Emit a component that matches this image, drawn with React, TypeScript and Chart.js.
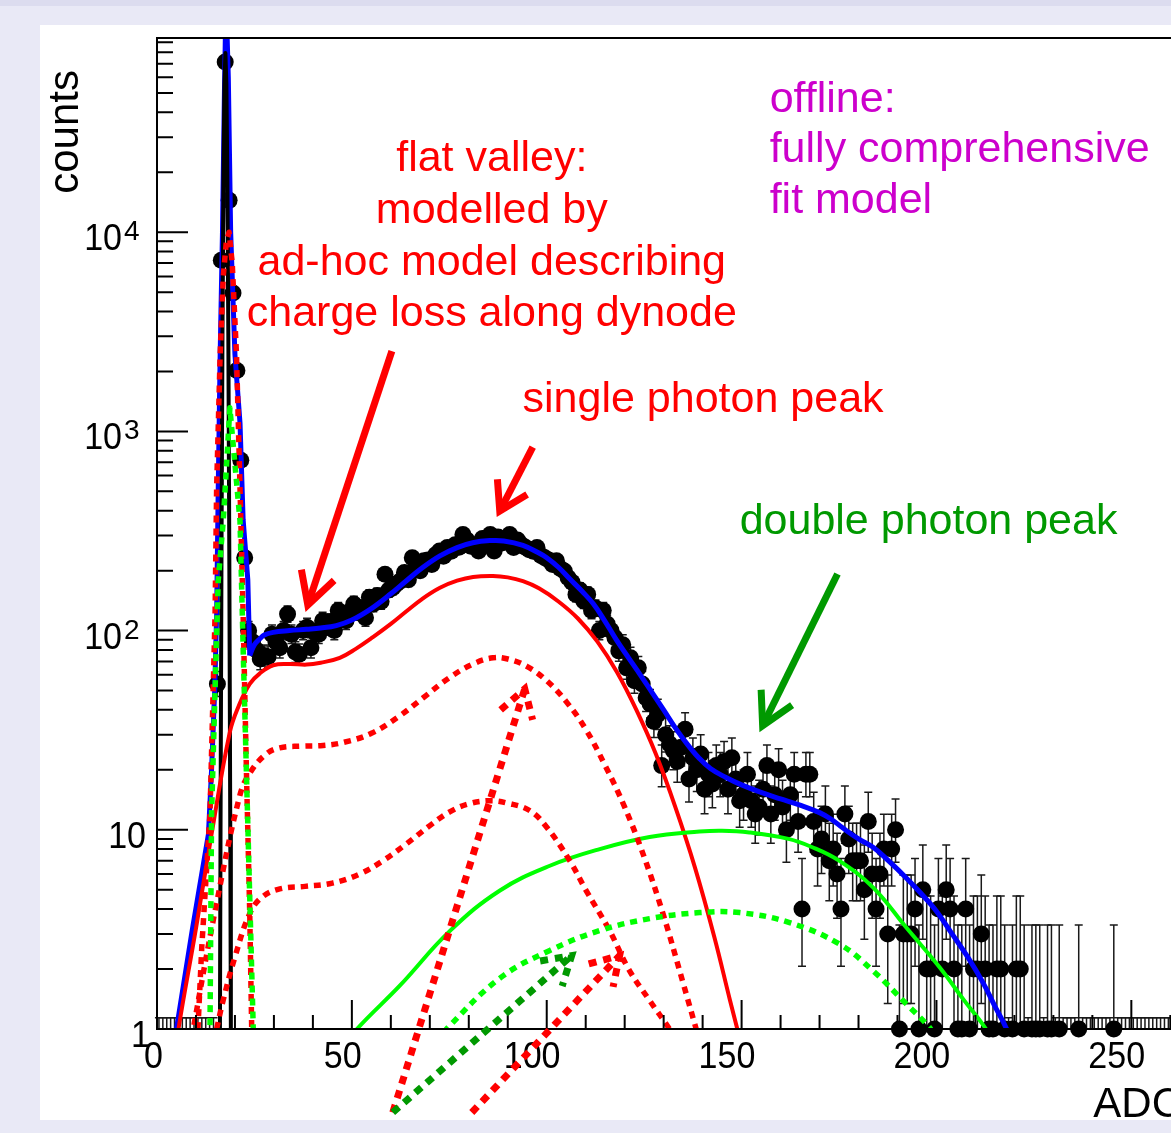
import React, { useEffect, useRef } from "react";
import { Chart, registerables } from "chart.js";

Chart.register(...registerables);

const CANVAS_W = 1230;
const CANVAS_H = 1133;

// ---------------- data ----------------
// histogram counts, one bin per ADC unit, bins 0..262 (bin centre = i + 0.5)
const binCounts: number[] = [
  0, 0, 0, 0, 0, 0, 0, 0, 0, 0,
  0, 0, 0, 0, 0, 54, 7240, 71600, 14450, 4950,
  2020, 716, 232, 100, 88, 80, 72, 75, 74, 96,
  88, 82, 100, 121, 96, 78, 76, 100, 104, 82,
  98, 96, 112, 105, 110, 100, 126, 118, 112, 125,
  136, 124, 130, 116, 147, 136, 150, 140, 192, 160,
  164, 172, 178, 196, 180, 232, 210, 200, 224, 226,
  215, 240, 251, 236, 261, 250, 270, 262, 304, 285,
  265, 270, 251, 290, 280, 304, 251, 295, 275, 290,
  304, 261, 285, 270, 262, 255, 250, 261, 238, 232,
  226, 215, 224, 205, 199, 184, 175, 152, 160, 141,
  152, 126, 130, 100, 126, 108, 100, 92, 79, 85,
  65, 73, 56, 65, 54, 46, 43, 35, 38, 21,
  30, 27, 25, 22, 26, 32, 18, 23, 20, 24,
  16, 19, 17, 21, 19, 22, 16, 23, 18, 14,
  15, 19, 14, 12, 13, 16, 21, 12, 15, 20,
  13, 10, 15, 19, 11, 4, 19, 19, 11, 8,
  9, 12, 7, 8, 6, 4, 12, 9, 7, 7,
  7, 5, 11, 6, 4, 6, 8, 3, 8, 10,
  1, 3, 3, 3, 4, 1, 5, 2, 2, 1,
  4, 2, 5, 4, 2, 1, 1, 4, 1, 2,
  2, 3, 2, 1, 1, 2, 2, 1, 0, 1,
  2, 2, 1, 0, 1, 1, 1, 0, 1, 1,
  0, 1, 0, 0, 0, 0, 1, 0, 0, 0,
  0, 0, 0, 0, 0, 1, 0, 0, 0, 0,
  0, 0, 0, 0, 0, 0, 0, 0, 0, 0,
  0, 0, 0,
];

// total fit (blue): pedestal part + main part
const totalPedX = [4.5, 5, 9, 13.2, 14, 14.8, 15.3, 15.7, 16.2, 16.8, 17.3, 17.7, 18.3, 18.9, 20, 21.3, 22.1, 23.3, 23.8];
const totalPedY = [0.75, 1, 3.1, 9.5, 20, 50, 120, 500, 2400, 10000, 50000, 150000, 60000, 10000, 2430, 1100, 360, 180, 75];
const totalFitX = [23.8, 25, 26.4, 27.5, 29.8, 34, 38.4, 42, 46, 50, 55, 60, 64, 68, 72.6, 77, 81, 85.4, 89, 93.9, 98, 100, 103, 106, 109, 112, 115, 118, 121, 124, 127, 130, 133, 136, 139, 142, 146, 150, 155, 160, 165, 170, 173, 176, 180, 184, 188, 192, 196, 200, 204, 208, 212, 215, 218, 219];
const totalFitY = [75, 85, 91, 95, 98, 100, 101.5, 103, 106, 113, 129, 153, 178, 206, 237, 261, 276, 283, 282, 268, 245, 232, 208, 181, 158, 136, 111, 89, 73, 60, 49, 40, 32.5, 27, 23, 20.3, 18.3, 16.8, 15.4, 14.3, 13.3, 12.2, 11.3, 10.2, 9, 8.1, 6.9, 5.8, 4.8, 3.9, 3.0, 2.3, 1.7, 1.3, 1, 0.85];

// pedestal (black)
const pedestalX = [15.9, 16.15, 16.3, 16.55, 16.8, 17.05, 17.3, 17.55, 17.8, 18.05, 18.3, 18.55, 18.8, 18.95, 19.1];
const pedestalY = [0.5, 1, 10, 254, 3130, 18900, 55500, 79400, 55500, 18900, 3130, 254, 10, 1, 0.3];

// single photon + valley sum (red solid)
const singleSumX = [5, 5.5, 10, 14, 18.7, 21, 23.8, 26.4, 29.8, 34, 38.4, 42, 46.9, 51, 55.5, 60, 64, 68, 72.6, 77, 81.1, 86.2, 90, 93.9, 98, 103, 108, 113, 118, 123, 128, 133, 138, 143, 147, 149.5];
const singleSumY = [0.8, 1, 3.2, 9.5, 31, 42, 54, 61, 67, 68, 67.5, 69, 73, 81, 93, 108, 125, 144, 164, 178, 186, 188, 185, 177, 163, 140, 115, 88, 62, 40, 24, 13, 6.5, 2.9, 1.4, 0.9];

// red dotted components
const valleyUpperX = [9, 9.3, 15, 21.3, 24, 28, 31.5, 37, 42.6, 48, 55, 62, 68.3, 75, 81.1, 86.2, 90, 95, 100, 105, 110, 115, 120, 125, 130, 135, 139];
const valleyUpperY = [0.9, 1, 4, 15, 19.5, 24, 25.8, 26.3, 26.5, 27.5, 30.5, 37, 46, 58, 68, 73, 72, 66, 56, 44, 32, 21, 13, 7.3, 3.7, 1.7, 0.9];
const valleyLowerX = [15.3, 17, 20, 23.8, 27, 31.5, 38, 45, 52, 58, 64, 70, 75.1, 80, 85.4, 90, 95.6, 100, 105.9, 110, 116.2, 121, 126.4, 131.5, 132];
const valleyLowerY = [1, 1.4, 2.3, 3.8, 4.6, 5.05, 5.2, 5.4, 6.0, 7.0, 8.5, 10.5, 12.3, 13.5, 14, 13.6, 12.5, 10.3, 7, 5, 3.1, 2, 1.39, 1, 0.95];
const pedRedX = [10.5, 11.5, 13.6, 14.9, 15.3, 16.2, 17, 17.8, 18.5, 19.3, 20.4, 21.3, 22.1, 23, 23.8, 24.3, 24.5];
const pedRedY = [1, 2.6, 12, 120, 520, 2430, 6000, 9000, 10000, 7000, 2430, 520, 120, 17.6, 3.8, 1, 0.8];

// double photon (green)
const doubleX = [50, 51.3, 62.3, 75.1, 88, 100.8, 113.6, 126.4, 139.2, 145, 152, 162, 168, 175, 183.7, 192.2, 200.8, 207, 212.7, 213.5];
const doubleY = [0.9, 1, 1.65, 3.1, 4.96, 6.6, 8.0, 9.2, 9.8, 9.9, 9.7, 9.0, 8.2, 7.0, 5.14, 3.24, 2.04, 1.4, 1, 0.9];
const doubleDotX = [74, 74.3, 88, 100.8, 113.6, 126.4, 139.2, 149.5, 162.3, 175.1, 183.7, 192.2, 198.2, 199];
const doubleDotY = [0.95, 1, 1.8, 2.48, 3.12, 3.58, 3.84, 3.84, 3.42, 2.67, 1.96, 1.34, 1.02, 0.95];
const pedGreenX = [13.5, 13.6, 14, 15.7, 17, 18.7, 21.3, 22.1, 23, 24.7, 24.9];
const pedGreenY = [0.9, 1, 12, 178, 355, 1313, 355, 82, 17.6, 1, 0.9];

// axes
const xMin = 0;
const xMax = 263;
const yMin = 1;
const yMax = 94400;
const xMajorTicks = [0, 50, 100, 150, 200, 250];
const xMinorTicks = [10, 20, 30, 40, 60, 70, 80, 90, 110, 120, 130, 140, 160, 170, 180, 190, 210, 220, 230, 240, 260];
const yDecades = [0, 1, 2, 3, 4];

// annotations (data coordinates)
const valleyText = ["flat valley:", "modelled by", "ad-hoc model describing", "charge loss along dynode"];
const valleyTextX = 85.9;
const valleyTextY = [20190, 11090, 6080, 3373];
const offlineText = ["offline:", "fully comprehensive", "fit model"];
const offlineTextX = 157.2;
const offlineTextY = [40360, 22420, 12440];
const singleText = "single photon peak";
const singleTextPos = [93.8, 1250];
const doubleText = "double photon peak";
const doubleTextPos = [149.5, 305.5];

// arrows: [tailX, tailY, tipX, tipY]
const arrowValley = [60.26, 2529, 38.7, 134.5];
const arrowSingle = [96.4, 834, 87.95, 398];
const arrowDouble = [174.6, 192.5, 155.4, 33.3];
const arrowDotUpper = [60.5, 0.381, 94.36, 51.0];
const arrowDotGreen = [60.5, 0.381, 106.4, 2.337];
const arrowDotLower = [80.77, 0.381, 118.7, 2.337];

// ---------------- drawing helpers ----------------
const FONT = '"Liberation Sans", Arial, sans-serif';

function drawArrow(ctx: CanvasRenderingContext2D, x1: number, y1: number, x2: number, y2: number, color: string, w: number, dash: number[], head: number, ang: number) {
  ctx.save();
  ctx.strokeStyle = color;
  ctx.lineWidth = w;
  ctx.setLineDash(dash);
  ctx.lineCap = "butt";
  ctx.lineJoin = "miter";
  ctx.beginPath();
  ctx.moveTo(x1, y1);
  ctx.lineTo(x2, y2);
  ctx.stroke();
  const a = Math.atan2(y1 - y2, x1 - x2);
  ctx.beginPath();
  ctx.moveTo(x2 + head * Math.cos(a + ang), y2 + head * Math.sin(a + ang));
  ctx.lineTo(x2, y2);
  ctx.lineTo(x2 + head * Math.cos(a - ang), y2 + head * Math.sin(a - ang));
  ctx.stroke();
  ctx.restore();
}

function textScaled(ctx: CanvasRenderingContext2D, s: string, x: number, y: number, align: CanvasTextAlign, sx: number) {
  ctx.save();
  ctx.translate(x, y);
  ctx.scale(sx, 1);
  ctx.textAlign = align;
  ctx.textBaseline = "alphabetic";
  ctx.fillText(s, 0, 0);
  ctx.restore();
}

const rootPlugin = {
  id: "rootStyle",
  beforeDraw(chart: any) {
    const ctx: CanvasRenderingContext2D = chart.ctx;
    ctx.save();
    ctx.fillStyle = "#e9e9f6";
    ctx.fillRect(0, 0, CANVAS_W, CANVAS_H);
    ctx.fillStyle = "#dcdcef";
    ctx.fillRect(0, 0, CANVAS_W, 6);
    ctx.fillStyle = "#ffffff";
    ctx.fillRect(40, 25, CANVAS_W - 40, 1095);
    ctx.restore();
  },
  beforeDatasetsDraw(chart: any) {
    const ctx: CanvasRenderingContext2D = chart.ctx;
    const xs = chart.scales.x;
    const ys = chart.scales.y;
    const area = chart.chartArea;
    const bottom = area.bottom;
    ctx.save();
    ctx.strokeStyle = "#1a1a1a";
    ctx.lineWidth = 1.5;
    const cap = 4;
    binCounts.forEach((n, i) => {
      const x = xs.getPixelForValue(i + 0.5);
      if (x > area.right) return;
      ctx.beginPath();
      if (n <= 0) {
        const t = ys.getPixelForValue(1.14);
        ctx.moveTo(x, bottom);
        ctx.lineTo(x, t);
        ctx.moveTo(x - cap, t);
        ctx.lineTo(x + cap, t);
        ctx.stroke();
        return;
      }
      const up = n + Math.sqrt(n + 0.75) + 1;
      const lo = n - Math.sqrt(n - 0.25);
      const yu = ys.getPixelForValue(up);
      const yl = lo >= yMin ? ys.getPixelForValue(lo) : bottom;
      ctx.moveTo(x, yl);
      ctx.lineTo(x, Math.max(yu, area.top));
      if (yu >= area.top) {
        ctx.moveTo(x - cap, yu);
        ctx.lineTo(x + cap, yu);
      }
      if (lo >= yMin) {
        ctx.moveTo(x - cap, yl);
        ctx.lineTo(x + cap, yl);
      }
      ctx.stroke();
    });
    ctx.restore();
  },
  afterDatasetsDraw(chart: any) {
    const ctx: CanvasRenderingContext2D = chart.ctx;
    const xs = chart.scales.x;
    const ys = chart.scales.y;
    const a = chart.chartArea;
    const px = (v: number) => xs.getPixelForValue(v);
    const py = (v: number) => ys.getPixelForValue(v);

    ctx.save();
    // frame
    ctx.strokeStyle = "#000";
    ctx.lineWidth = 2;
    ctx.strokeRect(a.left, a.top, a.right - a.left, a.bottom - a.top);
    // x ticks
    ctx.beginPath();
    xMajorTicks.forEach((v) => {
      const x = px(v);
      ctx.moveTo(x, a.bottom);
      ctx.lineTo(x, a.bottom - 29);
    });
    xMinorTicks.forEach((v) => {
      const x = px(v);
      ctx.moveTo(x, a.bottom);
      ctx.lineTo(x, a.bottom - 14);
    });
    // y ticks
    yDecades.forEach((d) => {
      for (let m = 1; m <= 9; m++) {
        const v = m * Math.pow(10, d);
        if (v > yMax || v < yMin) continue;
        const y = py(v);
        ctx.moveTo(a.left, y);
        ctx.lineTo(a.left + (m === 1 ? 31 : 16), y);
      }
    });
    ctx.stroke();

    // tick labels
    ctx.fillStyle = "#000";
    ctx.font = `37px ${FONT}`;
    xMajorTicks.forEach((v) => {
      const s = String(v);
      textScaled(ctx, s, px(v) - 15 * s.length + 2, a.bottom + 39, "left", 0.92);
    });
    yDecades.forEach((d) => {
      const y = py(Math.pow(10, d));
      ctx.font = `37px ${FONT}`;
      if (d === 0) {
        textScaled(ctx, "1", 150, y + 18, "right", 0.92);
      } else if (d === 1) {
        textScaled(ctx, "10", 146, y + 18, "right", 0.92);
      } else {
        textScaled(ctx, "10", 122, y + 18, "right", 0.92);
        ctx.font = `28px ${FONT}`;
        textScaled(ctx, String(d), 124, y + 8, "left", 1);
      }
    });

    // axis titles
    ctx.font = `42px ${FONT}`;
    ctx.save();
    ctx.translate(78, 70);
    ctx.rotate(-Math.PI / 2);
    ctx.textAlign = "right";
    ctx.textBaseline = "alphabetic";
    ctx.fillText("counts", 0, 0);
    ctx.restore();
    textScaled(ctx, "ADC", a.right, 1117, "right", 1);

    // annotation texts
    ctx.font = `43px ${FONT}`;
    ctx.fillStyle = "#ff0000";
    valleyText.forEach((t, i) => textScaled(ctx, t, px(valleyTextX), py(valleyTextY[i]), "center", 1));
    textScaled(ctx, singleText, px(singleTextPos[0]), py(singleTextPos[1]), "left", 1);
    ctx.fillStyle = "#cc00cc";
    offlineText.forEach((t, i) => textScaled(ctx, t, px(offlineTextX), py(offlineTextY[i]), "left", 1));
    ctx.fillStyle = "#009900";
    textScaled(ctx, doubleText, px(doubleTextPos[0]), py(doubleTextPos[1]), "left", 1);

    // arrows
    const A = (arr: number[], color: string, w: number, dash: number[], head: number, ang: number) =>
      drawArrow(ctx, px(arr[0]), py(arr[1]), px(arr[2]), py(arr[3]), color, w, dash, head, ang);
    A(arrowValley, "#ff0000", 7, [], 36, 0.5);
    A(arrowSingle, "#ff0000", 7, [], 32, 0.55);
    A(arrowDouble, "#009900", 7, [], 36, 0.5);
    A(arrowDotUpper, "#ff0000", 7, [8, 7], 32, 0.55);
    A(arrowDotGreen, "#009900", 7, [8, 7], 32, 0.55);
    A(arrowDotLower, "#ff0000", 7, [8, 7], 32, 0.55);
    ctx.restore();
  },
};

function curve(xs: number[], ys: number[], color: string, width: number, dash: number[], order: number, tension: number) {
  return {
    type: "line" as const,
    data: xs.map((x, i) => ({ x, y: ys[i] })),
    borderColor: color,
    borderWidth: width,
    borderDash: dash,
    pointRadius: 0,
    fill: false,
    tension,
    borderJoinStyle: "round" as const,
    order,
    clip: 0,
  };
}

export default function App() {
  const ref = useRef<HTMLCanvasElement | null>(null);
  useEffect(() => {
    if (!ref.current) return;
    const points = binCounts
      .map((n, i) => ({ x: i + 0.5, y: n }))
      .filter((p) => p.y > 0);
    const chart = new Chart(ref.current, {
      type: "line",
      data: {
        datasets: [
          {
            type: "line",
            data: points,
            showLine: false,
            pointRadius: 8.5,
            pointBackgroundColor: "#000",
            pointBorderWidth: 0,
            pointBorderColor: "#000",
            order: 100,
            clip: false,
          } as any,
          curve(totalPedX, totalPedY, "#0000ff", 5, [], 51, 0),
          curve(totalFitX, totalFitY, "#0000ff", 5, [], 50, 0.4),
          curve(pedestalX, pedestalY, "#000000", 4, [], 45, 0),
          curve(singleSumX, singleSumY, "#ff0000", 4, [], 40, 0.4),
          curve(doubleX, doubleY, "#00ff00", 4, [], 35, 0.4),
          curve(valleyUpperX, valleyUpperY, "#ff0000", 5.5, [7, 6], 30, 0.4),
          curve(valleyLowerX, valleyLowerY, "#ff0000", 5.5, [7, 6], 29, 0.4),
          curve(pedRedX, pedRedY, "#ff0000", 5.5, [7, 6], 28, 0),
          curve(doubleDotX, doubleDotY, "#00ff00", 5.5, [7, 6], 27, 0.4),
          curve(pedGreenX, pedGreenY, "#00ff00", 5.5, [7, 6], 26, 0),
        ] as any,
      },
      options: {
        responsive: false,
        animation: false,
        devicePixelRatio: 1,
        events: [],
        layout: { padding: { left: 157, top: 38, right: CANVAS_W - 1182, bottom: CANVAS_H - 1029 } },
        plugins: { legend: { display: false }, tooltip: { enabled: false } },
        scales: {
          x: { type: "linear", min: xMin, max: xMax, display: false },
          y: { type: "logarithmic", min: yMin, max: yMax, display: false },
        },
      },
      plugins: [rootPlugin],
    });
    return () => chart.destroy();
  }, []);
  return (
    <div style={{ position: "absolute", left: 0, top: 0, width: 1171, height: 1133, overflow: "hidden", background: "#e9e9f6" }}>
      <canvas ref={ref} width={CANVAS_W} height={CANVAS_H} style={{ width: CANVAS_W, height: CANVAS_H, display: "block" }} />
    </div>
  );
}
